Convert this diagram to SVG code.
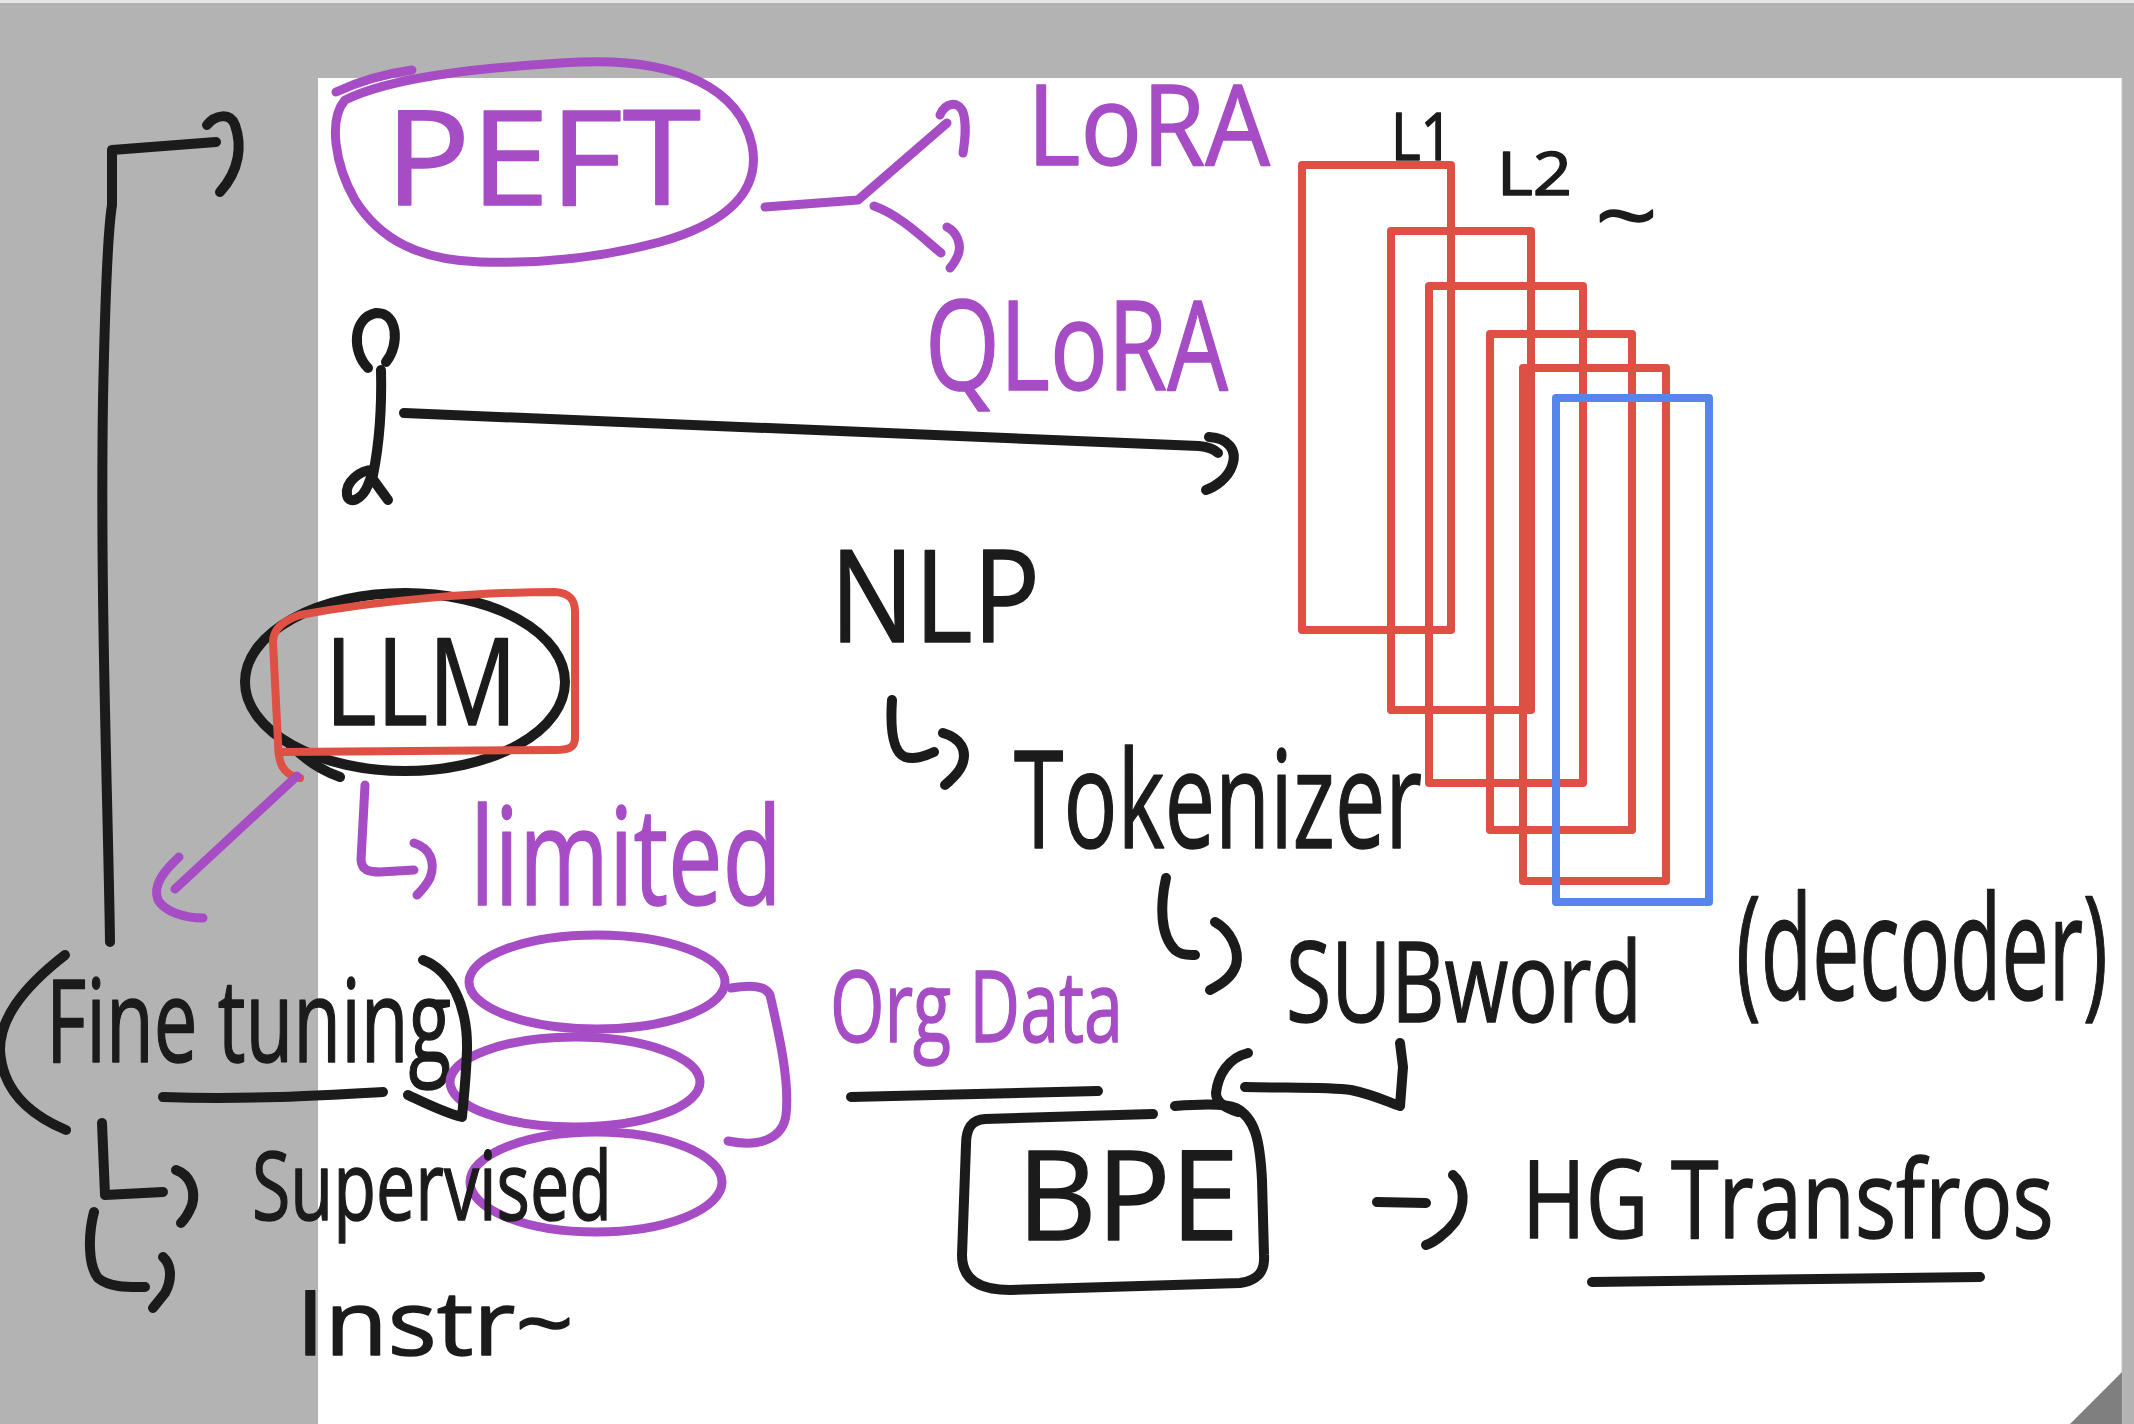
<svg xmlns="http://www.w3.org/2000/svg" width="2134" height="1424" viewBox="0 0 2134 1424">
<style>
.t{font-family:"Open Sans","Liberation Sans",sans-serif;stroke-linejoin:round;paint-order:stroke}
.k{fill:#1b1b1b;stroke:#1b1b1b;stroke-width:1.5}
.p{fill:#a64cc5;stroke:#a64cc5;stroke-width:1.5}
.sk{fill:none;stroke:#1b1b1b;stroke-width:10;stroke-linecap:round;stroke-linejoin:round}
.sp{fill:none;stroke:#a64cc5;stroke-width:9;stroke-linecap:round;stroke-linejoin:round}
.sr{fill:none;stroke:#de5044;stroke-width:8;stroke-linejoin:round}
.sb{fill:none;stroke:#5685eb;stroke-width:8;stroke-linejoin:round}
</style>
<rect x="0" y="0" width="2134" height="1424" fill="#b3b3b3"/>
<rect x="0" y="0" width="2134" height="3" fill="#e6e6e6"/>
<rect x="318" y="78" width="1804" height="1346" fill="#ffffff"/>
<line x1="2122" y1="78" x2="2122" y2="1424" stroke="#c4c4c4" stroke-width="1"/>
<polygon points="2070,1424 2122,1372 2122,1424" fill="#7f7f7f"/>

<g id="layers">
<rect x="1302" y="165" width="149" height="465" class="sr"/>
<rect x="1391" y="231" width="140" height="479" class="sr"/>
<rect x="1429" y="286" width="154" height="497" class="sr"/>
<rect x="1490" y="334" width="142" height="496" class="sr"/>
<rect x="1523" y="368" width="143" height="513" class="sr"/>
<rect x="1523" y="368" width="10" height="342" fill="#de5044"/>
<rect x="1556" y="398" width="153" height="504" class="sb"/>
<text class="t k" x="1391" y="160" font-size="66" textLength="62" lengthAdjust="spacingAndGlyphs">L1</text>
<text class="t k" x="1497" y="195" font-size="60" textLength="75" lengthAdjust="spacingAndGlyphs">L2</text>
<text class="t k" x="1595" y="250" font-size="96" textLength="63" lengthAdjust="spacingAndGlyphs">~</text>
</g>

<g id="peft">
<path class="sp" d="M345 100 C390 78,470 68,580 62 C680 58,740 90,752 145 C762 195,720 225,660 242 C600 258,540 264,480 262 C420 260,380 240,355 200 C335 165,328 120,345 100 Z"/>
<path class="sp" stroke-width="15" d="M336 92 Q370 76 412 70"/>
<text class="t p" x="385" y="205" font-size="132" textLength="316" lengthAdjust="spacingAndGlyphs">PEFT</text>
</g>
<g id="lora">
<text class="t p" x="1027" y="165" font-size="112" textLength="243" lengthAdjust="spacingAndGlyphs">LoRA</text>
</g>
<g id="qlora">
<text class="t p" x="925" y="390" font-size="125" textLength="303" lengthAdjust="spacingAndGlyphs">QLoRA</text>
</g>
<g id="llm">
<ellipse cx="405" cy="682" rx="160" ry="89" class="sk"/>
<path class="sk" d="M290 744 C305 760,320 770,340 777"/>
<path class="sr" stroke-width="9" stroke-linecap="round" d="M300 778 C282 775,278 762,278 742 L273 642 C273 628,285 620,300 615 C380 600,480 592,555 592 C570 593,575 600,575 612 L575 738 C575 748,568 750,555 750 L282 752"/>
<text class="t k" x="325" y="725" font-size="120" textLength="192" lengthAdjust="spacingAndGlyphs">LLM</text>
</g>
<g id="limited">
<text class="t p" x="470" y="905" font-size="135" textLength="312" lengthAdjust="spacingAndGlyphs">limited</text>
</g>
<g id="fine-tuning">
<text class="t k" x="46" y="1062" font-size="115" textLength="405" lengthAdjust="spacingAndGlyphs">Fine tuning</text>
</g>
<g id="data-stack">
<ellipse cx="597" cy="982" rx="128" ry="47" class="sp"/>
<ellipse cx="575" cy="1082" rx="125" ry="45" class="sp"/>
<ellipse cx="596" cy="1182" rx="126" ry="50" class="sp"/>
</g>
<g id="supervised">
<text class="t k" x="252" y="1220" font-size="95" textLength="360" lengthAdjust="spacingAndGlyphs">Supervised</text>
</g>
<g id="instr">
<text class="t k" x="296" y="1355" font-size="90" textLength="278" lengthAdjust="spacingAndGlyphs">Instr~</text>
</g>
<g id="nlp">
<text class="t k" x="830" y="642" font-size="128" textLength="210" lengthAdjust="spacingAndGlyphs">NLP</text>
</g>
<g id="tokenizer">
<text class="t k" x="1014" y="848" font-size="135" textLength="408" lengthAdjust="spacingAndGlyphs">Tokenizer</text>
</g>
<g id="subword">
<text class="t k" x="1286" y="1022" font-size="112" textLength="356" lengthAdjust="spacingAndGlyphs">SUBword</text>
</g>
<g id="decoder">
<text class="t k" transform="translate(1736,1000) scale(0.58,1)" x="0" y="0" font-size="145" textLength="641" lengthAdjust="spacingAndGlyphs">(decoder)</text>
</g>
<g id="org-data">
<text class="t p" x="830" y="1042" font-size="98" textLength="293" lengthAdjust="spacingAndGlyphs">Org Data</text>
</g>
<g id="bpe">
<path class="sk" d="M1153 1114 L985 1119 C970 1120,966 1130,966 1145 L962 1255 C962 1280,980 1290,1010 1290 L1240 1283 C1260 1280,1265 1270,1264 1255 L1262 1180 C1260 1140,1255 1118,1236 1108 C1225 1103,1200 1104,1175 1106"/>
<text class="t k" x="1017" y="1240" font-size="125" textLength="222" lengthAdjust="spacingAndGlyphs">BPE</text>
</g>
<g id="hg-transformers">
<text class="t k" transform="translate(1522,1238) scale(0.79,1)" x="0" y="0" font-size="108" textLength="673" lengthAdjust="spacingAndGlyphs">HG Transfros</text>
</g>

<g id="connectors">
<path class="sk" d="M110 942 C108 800,100 600,103 400 C105 300,108 230,112 205 L112 150 L216 142"/>
<path class="sk" d="M207 125 C215 115,230 112,235 125 C242 145,240 170,220 192"/>
<path class="sp" d="M765 207 L858 200 L947 123"/>
<path class="sp" d="M940 115 C945 103,958 100,963 112 C967 125,965 140,963 153"/>
<path class="sp" d="M874 206 C900 215,925 240,941 253"/>
<path class="sp" d="M947 227 C957 232,962 245,958 255 C955 262,952 266,950 268"/>
<path class="sk" d="M368 368 C352 352,352 318,376 313 C398 312,400 345,386 362"/>
<path class="sk" d="M381 370 C382 410,380 440,373 475"/>
<path class="sk" d="M373 470 C360 470,345 482,347 495 C349 505,362 500,368 485 L373 472 M372 478 L388 500"/>
<path class="sk" d="M404 413 L1199 446 C1210 447,1215 450,1218 453"/>
<path class="sk" d="M1209 437 C1228 438,1238 450,1232 466 C1228 478,1215 487,1206 490"/>
<path class="sp" d="M297 776 L175 889"/>
<path class="sp" d="M179 857 C165 870,152 885,158 900 C165 912,185 918,203 918"/>
<path class="sp" d="M365 785 L361 860 C362 870,368 872,380 872 L414 870"/>
<path class="sp" d="M414 843 C430 848,436 862,430 878 C426 886,420 892,417 895"/>
<path class="sk" d="M65 955 C20 990,0 1020,0 1050 C2 1090,30 1115,66 1130"/>
<path class="sk" d="M423 960 C450 970,468 1005,467 1050 C466 1080,463 1105,462 1117 C445 1113,425 1103,408 1095"/>
<path class="sk" d="M163 1097 C250 1100,330 1095,383 1092"/>
<path class="sp" d="M731 988 C750 985,765 985,770 995 C778 1030,790 1080,786 1115 C783 1138,760 1148,728 1141"/>
<path class="sk" d="M102 1123 L105 1195 L163 1192"/>
<path class="sk" d="M176 1170 C190 1175,196 1190,192 1205 C188 1215,184 1220,181 1223"/>
<path class="sk" d="M94 1212 C88 1235,88 1265,98 1278 C110 1288,130 1287,145 1287"/>
<path class="sk" d="M163 1257 C172 1265,172 1280,165 1293 L153 1308"/>
<path class="sk" d="M892 700 C890 730,893 752,905 757 C915 760,925 756,934 752"/>
<path class="sk" d="M943 733 C960 738,968 750,962 765 C958 775,950 780,945 785"/>
<path class="sk" d="M1166 878 C1160 905,1160 935,1175 950 C1182 956,1190 955,1195 955"/>
<path class="sk" d="M1215 922 C1230 930,1240 950,1236 965 C1232 978,1220 985,1210 990"/>
<path class="sk" d="M851 1097 L1098 1091"/>
<path class="sk" d="M1248 1053 C1228 1058,1218 1075,1216 1093 C1216 1102,1225 1108,1238 1112"/>
<path class="sk" d="M1245 1087 C1290 1088,1330 1087,1351 1090 C1375 1095,1390 1103,1400 1106 L1403 1067 L1400 1043"/>
<path class="sk" d="M1377 1202 L1426 1203"/>
<path class="sk" d="M1453 1175 C1465 1185,1466 1205,1455 1222 C1445 1235,1432 1243,1426 1245"/>
<path class="sk" d="M1592 1282 L1980 1277"/>
</g>
</svg>
